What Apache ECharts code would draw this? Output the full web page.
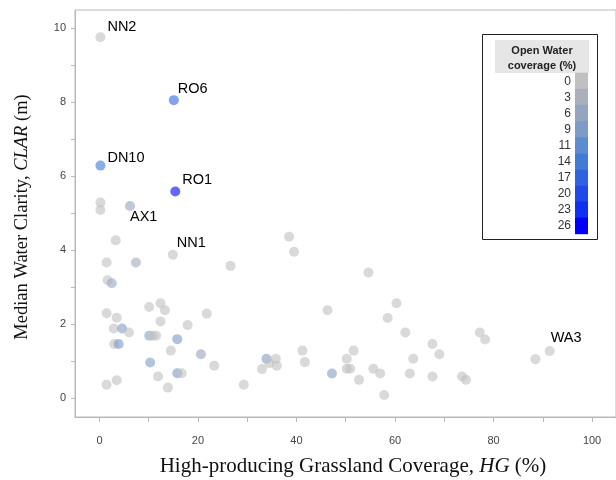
<!DOCTYPE html>
<html>
<head>
<meta charset="utf-8">
<script src="https://cdn.jsdelivr.net/npm/echarts@6/dist/echarts.min.js"></script>
<style>html,body{margin:0;padding:0;background:#fff}#c{width:616px;height:480px}</style>
</head>
<body>
<div id="c"></div>
<script>
// HG (%) values
const hg = [0.2,15.1,0.2,15.4,0.2,0.2,6.2,3.3,14.9,1.45,7.4,1.65,2.5,26.6,38.5,39.5,1.45,3.5,2.9,4.6,6.0,3.0,3.9,10.1,12.4,13.3,12.4,17.9,21.8,10.1,11.5,10.8,15.8,14.5,20.6,10.3,23.3,11.9,15.8,16.7,1.45,3.5,13.9,29.3,33.9,35.8,34.5,36.0,33.0,41.2,41.7,46.3,47.2,54.6,60.3,58.5,62.1,77.2,78.3,67.6,69.0,63.7,51.6,50.2,50.2,50.9,52.7,55.6,57.0,57.8,63.0,67.6,73.6,74.4,91.4,88.5];
// CLAR (m) values
const clar = [9.75,8.05,6.28,5.58,5.28,5.08,5.19,4.26,3.87,3.66,3.66,3.18,3.1,3.57,4.36,3.95,2.29,2.17,1.88,1.88,1.77,1.46,1.46,2.46,2.56,2.37,2.07,1.97,2.28,1.68,1.68,1.68,1.59,1.28,1.18,0.96,0.87,0.58,0.67,0.67,0.36,0.48,0.28,0.36,1.06,1.06,0.94,0.87,0.78,1.28,0.97,2.37,0.66,3.39,2.56,2.16,1.77,1.77,1.58,1.46,1.18,1.06,1.28,1.06,0.79,0.79,0.49,0.79,0.66,0.08,0.66,0.58,0.58,0.49,1.27,1.05];
// Open water coverage (%)
const openWater = [0,17,15,26,0,0,6,0,0,0,4,0,5,0,0,0,0,0,0,8,0,0,9,0,0,0,0,0,0,7,0,0,9,0,6,8,0,0,9,0,0,0,0,0,8,0,0,0,0,0,0,0,8,0,0,0,0,0,0,0,0,0,0,0,0,0,0,0,0,0,0,0,0,0,0,0];
// site labels (index -> name)
const siteNames = {0:'NN2',1:'RO6',2:'DN10',3:'RO1',6:'AX1',8:'NN1',74:'WA3'};
// legend
const legendLevels = [0,3,6,9,11,14,17,20,23,26];
const legendColors = ['#c0c0c0','#a9b0bc','#94a5bf','#7c9bc6','#5b8bd0','#407bd6','#2f62e0','#1f4ae8','#1030f2','#0000ff'];
const xTicks = [0,10,20,30,40,50,60,70,80,90,100];
const xLabels = [0,20,40,60,80,100];
const yTicks = [0,1,2,3,4,5,6,7,8,9,10];
const yLabels = [0,2,4,6,8,10];

// label offsets (style)
const labelOffsets = {NN2:[7,-10],RO6:[4,-11],DN10:[7,-8],RO1:[7,-12],AX1:[0,11],NN1:[4,-12],WA3:[1,-13]};

const data = hg.map((x,i)=>({value:[x, clar[i], openWater[i]], name: siteNames[i] || ''}));

const chart = echarts.init(document.getElementById('c'), null, {renderer:'canvas'});

const graphics = [];
// legend box
graphics.push({type:'rect', shape:{x:482.5,y:34.5,width:115,height:205}, style:{fill:'#fff', stroke:'#222', lineWidth:1}, z:10});
graphics.push({type:'rect', shape:{x:495,y:40,width:94,height:33}, style:{fill:'#e6e6e6'}, z:11});
graphics.push({type:'text', x:542, y:50.5, style:{text:'Open Water', font:'bold 11px "Liberation Sans", Arial, sans-serif', fill:'#222', align:'center', verticalAlign:'middle'}, z:12});
graphics.push({type:'text', x:542, y:65.5, style:{text:'coverage (%)', font:'bold 11px "Liberation Sans", Arial, sans-serif', fill:'#222', align:'center', verticalAlign:'middle'}, z:12});
legendLevels.forEach((lv,i)=>{
  const y0 = 72.7 + i*16.1;
  graphics.push({type:'rect', shape:{x:575,y:y0,width:13,height:16.6}, style:{fill:legendColors[i]}, z:11});
  graphics.push({type:'text', x:571, y:y0+8.5, style:{text:String(lv), font:'12px "Liberation Sans", Arial, sans-serif', fill:'#333', align:'right', verticalAlign:'middle'}, z:12});
});
// axis titles
const serif = '"Liberation Serif", "Times New Roman", serif';
graphics.push({type:'text', x:353, y:466, style:{
  text:'{n|High-producing Grassland Coverage, }{i|HG}{n| (%)}',
  rich:{n:{fontFamily:serif, fontSize:21, fill:'#111'}, i:{fontFamily:serif, fontSize:21, fontStyle:'italic', fill:'#111'}},
  align:'center', verticalAlign:'middle'}});
graphics.push({type:'text', x:22, y:217, rotation:Math.PI/2, style:{
  text:'{n|Median Water Clarity, }{i|CLAR}{n| (m)}',
  rich:{n:{fontFamily:serif, fontSize:18.5, fill:'#111'}, i:{fontFamily:serif, fontSize:18.5, fontStyle:'italic', fill:'#111'}},
  align:'center', verticalAlign:'middle'}});

chart.setOption({
  animation:false,
  backgroundColor:'#fff',
  grid:{left:75, right:-1, top:10, bottom:63, show:true, borderColor:'#b8b8b8', borderWidth:1, containLabel:false},
  xAxis:{type:'value', min:-4.96, max:104.86,
    axisLine:{show:true, onZero:false, lineStyle:{color:'#b8b8b8'}},
    axisTick:{show:true, inside:false, length:5, customValues:xTicks, lineStyle:{color:'#b8b8b8'}},
    axisLabel:{customValues:xLabels, margin:18, fontSize:11, color:'#444', fontFamily:'"Liberation Sans", Arial, sans-serif'},
    splitLine:{show:false}},
  yAxis:{type:'value', min:-0.514, max:10.486,
    axisLine:{show:true, onZero:false, lineStyle:{color:'#b8b8b8'}},
    axisTick:{show:true, inside:false, length:4, customValues:yTicks, lineStyle:{color:'#b8b8b8'}},
    axisLabel:{customValues:yLabels, margin:9, fontSize:11, color:'#444', fontFamily:'"Liberation Sans", Arial, sans-serif'},
    splitLine:{show:false}},
  visualMap:{show:false, type:'continuous', seriesIndex:0, dimension:2, min:0, max:26, inRange:{color:legendColors, colorAlpha:0.75}},
  series:[
    {type:'scatter', symbolSize:10, data:data, emphasis:{disabled:true}, silent:true},
    {type:'scatter', symbolSize:10, z:5, silent:true,
     data: data.filter(d=>d.name).map(d=>({value:[d.value[0], d.value[1]], name:d.name,
       label:{show:true, position:'inside', align:'left', verticalAlign:'middle', offset:labelOffsets[d.name]}})),
     itemStyle:{opacity:0},
     label:{show:true, formatter:'{b}', fontSize:14.5, color:'#000', opacity:1, fontFamily:'"Liberation Sans", Arial, sans-serif'},
     emphasis:{disabled:true}}
  ],
  graphic:graphics
});
</script>
</body>
</html>
